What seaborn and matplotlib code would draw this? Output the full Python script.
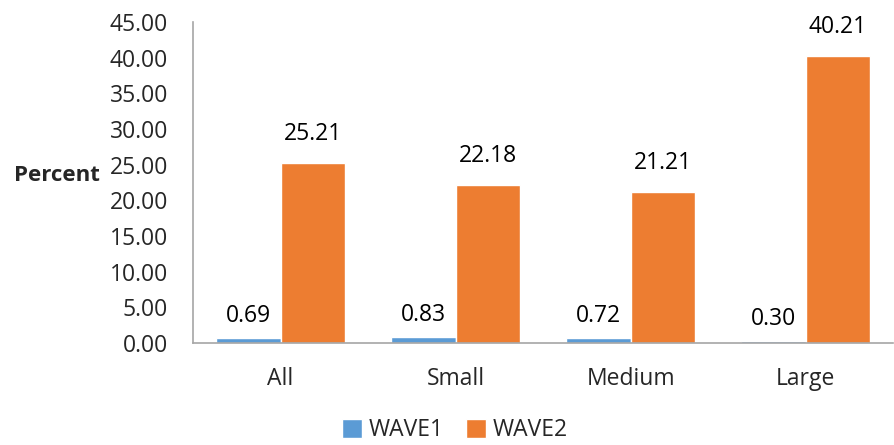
import matplotlib
matplotlib.use("Agg")
import matplotlib.pyplot as plt
import seaborn as sns
import pandas as pd

categories = ["All", "Small", "Medium", "Large"]
wave1 = [0.69, 0.83, 0.72, 0.30]
wave2 = [25.21, 22.18, 21.21, 40.21]
series_names = ["WAVE1", "WAVE2"]
y_ticks = [0, 5, 10, 15, 20, 25, 30, 35, 40, 45]

df = pd.DataFrame({
    "cat": categories * 2,
    "val": wave1 + wave2,
    "wave": [series_names[0]] * 4 + [series_names[1]] * 4,
})

sns.set_theme(style="white")
plt.rcParams['font.family'] = ['Open Sans', 'DejaVu Sans']

fig = plt.figure(figsize=(8.94, 4.45), dpi=100)
ax = fig.add_axes([0.216, 0.229, 0.783, 0.722])

palette = {"WAVE1": "#5B9BD5", "WAVE2": "#ED7D31"}
sns.barplot(data=df, x="cat", y="val", hue="wave", order=categories,
            hue_order=series_names, palette=palette, width=0.74, gap=0,
            saturation=1, ax=ax, legend=True)

# blue labels sit a bit closer to their bars than the orange ones
for cont, pad in zip(ax.containers, [7, 12]):
    ax.bar_label(cont, fmt="%.2f", padding=pad, fontsize=16.5, color="black")

ax.set_ylim(0, 45)
ax.set_xlim(-0.5, 3.5)
ax.set_yticks(y_ticks)
ax.set_yticklabels([f"{t:.2f}" for t in y_ticks], fontsize=16.5)
ax.tick_params(axis="x", labelsize=16.5, pad=17, length=0)
ax.tick_params(axis="y", pad=18, length=0)
ax.set_xlabel("")
ax.set_ylabel("Percent", fontsize=16, fontweight="bold", rotation=0, labelpad=0)
ax.yaxis.set_label_coords(-0.195, 0.49)

for s in ["top", "right"]:
    ax.spines[s].set_visible(False)
for s in ["left", "bottom"]:
    ax.spines[s].set_color("#A6A6A6")
    ax.spines[s].set_linewidth(1.2)

leg = ax.legend(loc="center", bbox_to_anchor=(0.374, -0.272), ncol=2, frameon=False,
                fontsize=16.5, handlelength=0.85, handleheight=0.85, handletextpad=0.3,
                columnspacing=1.0, borderpad=0)

fig.savefig("out.png", dpi=100)
